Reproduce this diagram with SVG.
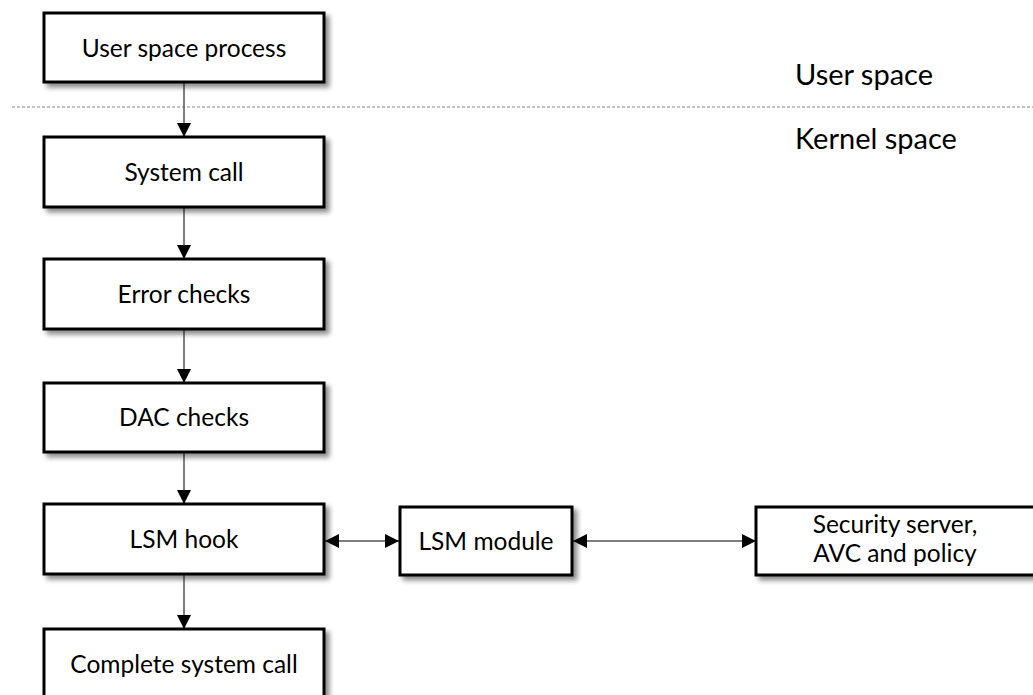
<svg xmlns="http://www.w3.org/2000/svg" width="1033" height="695" viewBox="0 0 1033 695">
  <defs>
    <filter id="shadow" x="-10%" y="-20%" width="130%" height="160%">
      <feDropShadow dx="4" dy="4" stdDeviation="2.5" flood-color="#000" flood-opacity="0.45"/>
    </filter>
    <marker id="arrow" viewBox="0 0 14 14" refX="14" refY="7" markerWidth="14" markerHeight="14" markerUnits="userSpaceOnUse" orient="auto-start-reverse">
      <path d="M0,0 L14,7 L0,14 Z" fill="#000"/>
    </marker>
  </defs>
  <style>
    .box { fill: #fff; stroke: #000; stroke-width: 3; filter: url(#shadow); }
    .label { font-family: Lato, "Open Sans", "Liberation Sans", sans-serif; font-size: 24.5px; fill: #000; text-anchor: middle; }
    .zone { font-family: Lato, "Open Sans", "Liberation Sans", sans-serif; font-size: 29px; fill: #000; }
    .link { stroke: #555; stroke-width: 1.5; fill: none; marker-end: url(#arrow); }
    .both { marker-start: url(#arrow); }
  </style>

  <rect width="1033" height="695" fill="#fff"/>

  <!-- boundary between user and kernel space -->
  <line x1="12" y1="107" x2="1033" y2="107" stroke="#888" stroke-width="1" stroke-dasharray="3,2"/>
  <text class="zone" x="795" y="85">User space</text>
  <text class="zone" x="795" y="149">Kernel space</text>

  <g id="connectors">
    <line class="link" x1="184" y1="82" x2="184" y2="137"/>
    <line class="link" x1="184" y1="207" x2="184" y2="259"/>
    <line class="link" x1="184" y1="329" x2="184" y2="383"/>
    <line class="link" x1="184" y1="452" x2="184" y2="504"/>
    <line class="link" x1="184" y1="574" x2="184" y2="629"/>
    <line class="link both" x1="325" y1="541" x2="399" y2="541"/>
    <line class="link both" x1="573" y1="541" x2="756" y2="541"/>
  </g>

  <g id="user-process">
    <rect class="box" x="44" y="13" width="280" height="69"/>
    <text class="label" x="184" y="57">User space process</text>
  </g>
  <g id="system-call">
    <rect class="box" x="44" y="137" width="280" height="70"/>
    <text class="label" x="184" y="181">System call</text>
  </g>
  <g id="error-checks">
    <rect class="box" x="44" y="259" width="280" height="70"/>
    <text class="label" x="184" y="303">Error checks</text>
  </g>
  <g id="dac-checks">
    <rect class="box" x="44" y="383" width="280" height="69"/>
    <text class="label" x="184" y="426">DAC checks</text>
  </g>
  <g id="lsm-hook">
    <rect class="box" x="44" y="504" width="280" height="70"/>
    <text class="label" x="184" y="548">LSM hook</text>
  </g>
  <g id="complete-call">
    <rect class="box" x="44" y="629" width="280" height="75"/>
    <text class="label" x="184" y="673">Complete system call</text>
  </g>
  <g id="lsm-module">
    <rect class="box" x="400" y="507" width="172" height="68"/>
    <text class="label" x="486" y="550">LSM module</text>
  </g>
  <g id="security-server">
    <rect class="box" x="756" y="507" width="290" height="68"/>
    <text class="label" x="895" y="533">Security server,</text>
    <text class="label" x="895" y="562">AVC and policy</text>
  </g>
</svg>
